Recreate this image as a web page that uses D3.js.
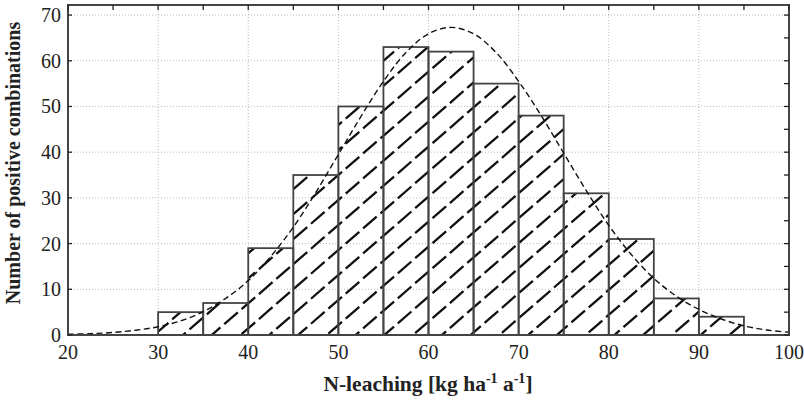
<!DOCTYPE html>
<html>
<head>
<meta charset="utf-8">
<script src="https://cdn.jsdelivr.net/npm/d3@7"></script>
<style>
    body { margin: 0; background: #fff; }
    text { font-family: "Liberation Serif", "Times New Roman", serif; fill: #222; }
</style>
</head>
<body>
<div id="chart"><svg width="804" height="401"></svg></div>
<script>
// histogram bins (lower edge, width 5) and counts
var binStarts = [20, 25, 30, 35, 40, 45, 50, 55, 60, 65, 70, 75, 80, 85, 90];
var binCounts = [0, 0, 5, 7, 19, 35, 50, 63, 62, 55, 48, 31, 21, 8, 4];
var binWidth = 5;

// fitted curve
var curveX = [20, 22.5, 25, 27.5, 30, 32.5, 35, 37.5, 40, 42.5, 45, 47.5, 50, 52.5, 55, 57.5, 60,
    62.5, 65, 67.5, 70, 72.5, 75, 77.5, 80, 82.5, 85, 87.5, 90, 92.5, 95, 97.5, 100];
var curveY = [0.15, 0.3, 0.55, 1.05, 1.8, 3.1, 5.1, 8.0, 11.9, 17.2, 23.6, 31.2, 39.5, 47.8, 55.5, 61.8, 65.9,
    67.3, 65.9, 61.8, 55.5, 48.0, 39.8, 31.6, 24.0, 17.6, 12.4, 8.5, 5.6, 3.5, 2.0, 1.1, 0.6];

var xTicks = [20, 30, 40, 50, 60, 70, 80, 90, 100];
var yTicks = [0, 10, 20, 30, 40, 50, 60, 70];

var svg = d3.select("#chart").select("svg");
var pLeft = 68, pRight = 789, pTop = 5, pBottom = 335;

var x = d3.scaleLinear().domain([20, 100]).range([pLeft, pRight]);
var y = d3.scaleLinear().domain([0, 72.2]).range([pBottom, pTop]);

// grid
svg.append("g").selectAll("line")
    .data(xTicks.slice(1, -1))
    .enter().append("line")
    .attr("x1", function (d) { return x(d); })
    .attr("x2", function (d) { return x(d); })
    .attr("y1", pTop).attr("y2", pBottom)
    .style("stroke", "#bbb").style("stroke-width", 1).style("stroke-dasharray", "1,2");
svg.append("g").selectAll("line")
    .data(yTicks.slice(1))
    .enter().append("line")
    .attr("y1", function (d) { return y(d); })
    .attr("y2", function (d) { return y(d); })
    .attr("x1", pLeft).attr("x2", pRight)
    .style("stroke", "#bbb").style("stroke-width", 1).style("stroke-dasharray", "1,2");

var bins = binStarts.map(function (d, i) {
    return {x0: d, x1: d + binWidth, n: binCounts[i]};
}).filter(function (d) { return d.n > 0; });

// clip hatching to the bars
var clip = svg.append("defs").append("clipPath").attr("id", "barsClip");
clip.selectAll("rect")
    .data(bins)
    .enter().append("rect")
    .attr("x", function (d) { return x(d.x0); })
    .attr("y", function (d) { return y(d.n); })
    .attr("width", function (d) { return x(d.x1) - x(d.x0); })
    .attr("height", function (d) { return pBottom - y(d.n); });

var hatch = svg.append("g").attr("clip-path", "url(#barsClip)");
var step = 25, slope = Math.tan(41 * Math.PI / 180);
var offsets = d3.range(0, 1000, step);
hatch.selectAll("line")
    .data(offsets)
    .enter().append("line")
    .attr("x1", pLeft)
    .attr("y1", function (d) { return pBottom + d; })
    .attr("x2", pRight)
    .attr("y2", function (d) { return pBottom + d - (pRight - pLeft) * slope; })
    .style("stroke", "#111").style("stroke-width", 2.3)
    .style("stroke-dasharray", "18,5");

svg.append("g").selectAll("rect")
    .data(bins)
    .enter().append("rect")
    .attr("x", function (d) { return x(d.x0); })
    .attr("y", function (d) { return y(d.n); })
    .attr("width", function (d) { return x(d.x1) - x(d.x0); })
    .attr("height", function (d) { return pBottom - y(d.n); })
    .style("fill", "none").style("stroke", "#444").style("stroke-width", 1.8);

// fitted curve
var line = d3.line()
    .x(function (d, i) { return x(curveX[i]); })
    .y(function (d) { return y(d); })
    .curve(d3.curveCatmullRom);
svg.append("path")
    .attr("d", line(curveY))
    .style("fill", "none").style("stroke", "#111").style("stroke-width", 1.4)
    .style("stroke-dasharray", "6,3.5");

// frame
svg.append("rect")
    .attr("x", pLeft).attr("y", pTop)
    .attr("width", pRight - pLeft).attr("height", pBottom - pTop)
    .style("fill", "none").style("stroke", "#444").style("stroke-width", 2);

// ticks (inward)
var minorX = d3.range(20, 101, 5);
var minorY = d3.range(0, 71, 5);
svg.append("g").selectAll("line")
    .data(minorX)
    .enter().append("line")
    .attr("x1", function (d) { return x(d); })
    .attr("x2", function (d) { return x(d); })
    .attr("y1", pTop).attr("y2", pTop + 5)
    .style("stroke", "#222").style("stroke-width", 1.3);
svg.append("g").selectAll("line")
    .data(minorY)
    .enter().append("line")
    .attr("y1", function (d) { return y(d); })
    .attr("y2", function (d) { return y(d); })
    .attr("x1", pRight).attr("x2", pRight - 5)
    .style("stroke", "#222").style("stroke-width", 1.3);
svg.append("g").selectAll("line")
    .data(yTicks)
    .enter().append("line")
    .attr("y1", function (d) { return y(d); })
    .attr("y2", function (d) { return y(d); })
    .attr("x1", pLeft).attr("x2", pLeft + 4)
    .style("stroke", "#222").style("stroke-width", 1.3);

// tick labels
svg.append("g").selectAll("text")
    .data(xTicks)
    .enter().append("text")
    .attr("x", function (d) { return x(d); })
    .attr("y", 359)
    .attr("text-anchor", "middle")
    .style("font-size", "20px")
    .text(function (d) { return d; });
svg.append("g").selectAll("text")
    .data(yTicks)
    .enter().append("text")
    .attr("x", 61)
    .attr("y", function (d) { return y(d) + 7; })
    .attr("text-anchor", "end")
    .style("font-size", "20px")
    .text(function (d) { return d; });

// axis titles
var xt = svg.append("text")
    .attr("x", 428).attr("y", 391)
    .attr("text-anchor", "middle")
    .style("font-size", "21.5px").style("font-weight", "bold");
xt.append("tspan").text("N-leaching [kg ha");
xt.append("tspan").attr("dy", -8).style("font-size", "14px").text("-1");
xt.append("tspan").attr("dy", 8).text(" a");
xt.append("tspan").attr("dy", -8).style("font-size", "14px").text("-1");
xt.append("tspan").attr("dy", 8).text("]");

svg.append("text")
    .attr("transform", "translate(20,163) rotate(-90)")
    .attr("text-anchor", "middle")
    .style("font-size", "20px").style("font-weight", "bold")
    .text("Number of positive combinations");
</script>
</body>
</html>
